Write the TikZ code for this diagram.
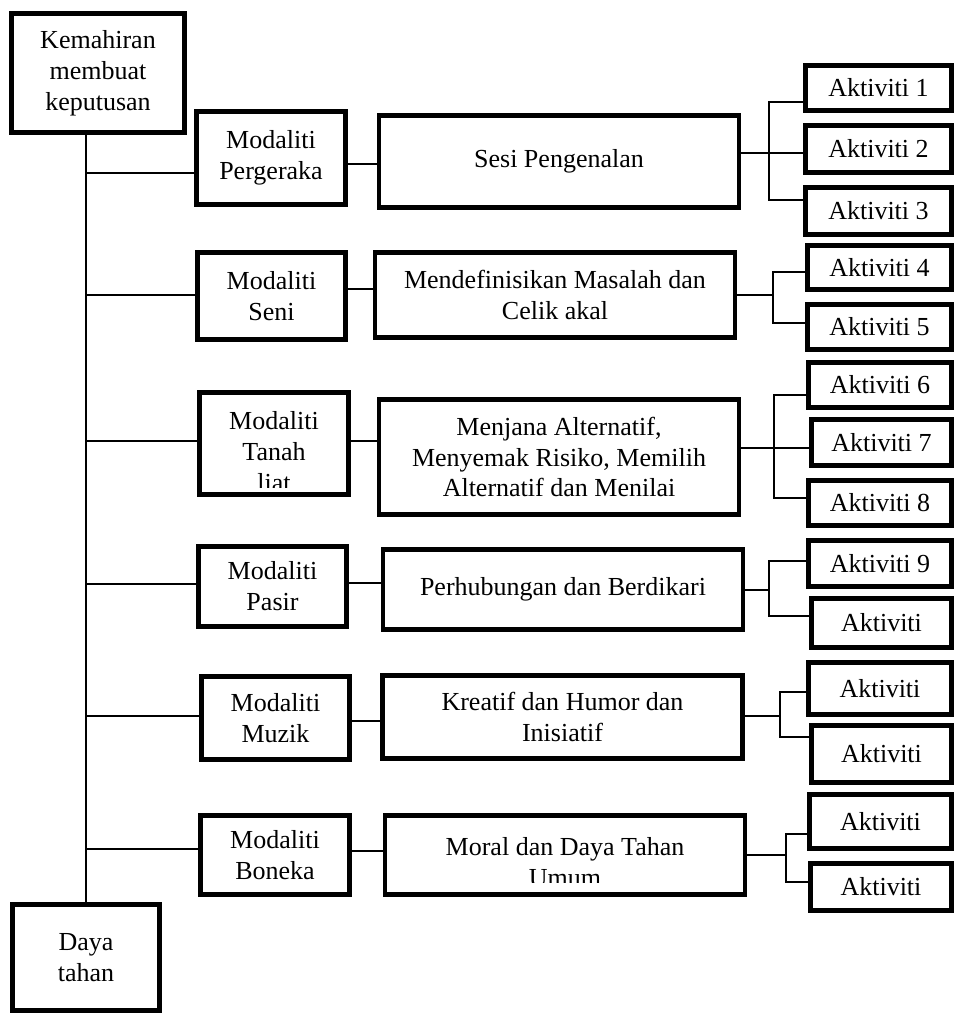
\documentclass[tikz,border=0pt]{standalone}
\usepackage{fontspec}
\setmainfont{Liberation Serif}
\begin{document}
\begin{tikzpicture}[x=0.02cm, y=-0.02cm,
    box/.style={draw, line width=2.6pt, align=center, inner sep=0pt, font=\fontsize{14.8}{17.6}\selectfont},
    modbox/.style={box, minimum width=2.97cm},
    sesbox/.style={box, minimum width=7.2cm},
    aktbox/.style={box, anchor=east},
    txt/.style={align=center, inner sep=0pt, font=\fontsize{14.8}{17.6}\selectfont},
    link/.style={line width=0.85pt}]
    \useasboundingbox (0,0) rectangle (957,1015);

    % Nodes
    \node (kem) [box, minimum width=3.47cm, minimum height=2.39cm] at (98,73) {Kemahiran\\membuat\\keputusan};
    \node (daya) [box, minimum width=2.95cm, minimum height=2.13cm] at (86,957.5) {Daya\\tahan};

    \node (mod1) [modbox, minimum height=1.87cm] at (271,158) {Modaliti\\Pergeraka};
    \node (mod2) [modbox, minimum height=1.75cm] at (271.5,296) {Modaliti\\Seni};
    \node (mod3) [modbox, minimum height=2.05cm] at (274,443.5) {};
    \node (mod4) [modbox, minimum height=1.61cm] at (272.5,586.5) {Modaliti\\Pasir};
    \node (mod5) [modbox, minimum height=1.67cm] at (275.5,718) {Modaliti\\Muzik};
    \node (mod6) [modbox, minimum height=1.59cm] at (275,855) {Modaliti\\Boneka};

    \node (ses1) [sesbox, minimum height=1.85cm] at (559,161.5) {Sesi Pengenalan};
    \node (ses2) [sesbox, minimum height=1.71cm] at (555,295) {Mendefinisikan Masalah dan\\Celik akal};
    \node (ses3) [sesbox, minimum height=2.31cm] at (559,457) {Menjana Alternatif,\\Menyemak Risiko, Memilih\\Alternatif dan Menilai};
    \node (ses4) [sesbox, minimum height=1.61cm] at (563,589.5) {Perhubungan dan Berdikari};
    \node (ses5) [sesbox, minimum height=1.67cm] at (562.5,717) {Kreatif dan Humor dan\\Inisiatif};
    \node (ses6) [sesbox, minimum height=1.59cm] at (565,855) {};

    \node (a1) [aktbox, minimum width=2.91cm, minimum height=0.91cm] at (953.5,88) {Aktiviti 1};
    \node (a2) [aktbox, minimum width=2.91cm, minimum height=0.95cm] at (953.5,149) {Aktiviti 2};
    \node (a3) [aktbox, minimum width=2.91cm, minimum height=0.95cm] at (953.5,211) {Aktiviti 3};
    \node (a4) [aktbox, minimum width=2.87cm, minimum height=0.89cm] at (953.5,267.5) {Aktiviti 4};
    \node (a5) [aktbox, minimum width=2.87cm, minimum height=0.91cm] at (953.5,327) {Aktiviti 5};
    \node (a6) [aktbox, minimum width=2.85cm, minimum height=0.91cm] at (953.5,385) {Aktiviti 6};
    \node (a7) [aktbox, minimum width=2.79cm, minimum height=0.93cm] at (953.5,442.5) {Aktiviti 7};
    \node (a8) [aktbox, minimum width=2.85cm, minimum height=0.91cm] at (953.5,503) {Aktiviti 8};
    \node (a9) [aktbox, minimum width=2.85cm, minimum height=0.93cm] at (953.5,563.5) {Aktiviti 9};
    \node (a10) [aktbox, minimum width=2.79cm, minimum height=0.99cm] at (953.5,623) {Aktiviti};
    \node (a11) [aktbox, minimum width=2.85cm, minimum height=1.05cm] at (953.5,688.5) {Aktiviti};
    \node (a12) [aktbox, minimum width=2.79cm, minimum height=1.15cm] at (953.5,754) {Aktiviti};
    \node (a13) [aktbox, minimum width=2.83cm, minimum height=1.09cm] at (953.5,821.5) {Aktiviti};
    \node (a14) [aktbox, minimum width=2.81cm, minimum height=0.95cm] at (953.5,887) {Aktiviti};

    % Clipped texts
    \begin{scope}
        \clip (mod3.north west) rectangle (mod3.east |- 0,487);
        \node (mod3t) [txt, anchor=north] at (274,411) {Modaliti\\Tanah\\liat};
    \end{scope}
    \begin{scope}
        \clip (ses6.north west) rectangle (ses6.east |- 0,882);
        \node (ses6t) [txt, anchor=north] at (565,837) {Moral dan Daya Tahan\\Umum};
    \end{scope}

    % Joints
    \coordinate (j1) at (769,153);
    \coordinate (j2) at (773,295);
    \coordinate (j3) at (774,448);
    \coordinate (j4) at (769,590);
    \coordinate (j5) at (780,716);
    \coordinate (j6) at (786,855);

    % Edges
    \draw[link] (daya.north |- kem.south) -- (daya.north);
    \draw[link] (daya.north |- 0,173) -- (mod1.west |- 0,173);
    \draw[link] (daya.north |- 0,295) -- (mod2.west |- 0,295);
    \draw[link] (daya.north |- 0,441) -- (mod3.west |- 0,441);
    \draw[link] (daya.north |- 0,584) -- (mod4.west |- 0,584);
    \draw[link] (daya.north |- 0,716) -- (mod5.west |- 0,716);
    \draw[link] (daya.north |- 0,849) -- (mod6.west |- 0,849);

    \draw[link] (mod1.east |- 0,164) -- (ses1.west |- 0,164);
    \draw[link] (mod2.east |- 0,289) -- (ses2.west |- 0,289);
    \draw[link] (mod3.east |- 0,441) -- (ses3.west |- 0,441);
    \draw[link] (mod4.east |- 0,583) -- (ses4.west |- 0,583);
    \draw[link] (mod5.east |- 0,721) -- (ses5.west |- 0,721);
    \draw[link] (mod6.east |- 0,851) -- (ses6.west |- 0,851);

    \draw[link] (ses1.east |- j1) -- (a2.west |- j1);
    \draw[link] (a1.west |- 0,102) -| (j1) |- (a3.west |- 0,200);
    \draw[link] (ses2.east |- j2) -- (j2);
    \draw[link] (a4.west |- 0,272) -| (j2) |- (a5.west |- 0,323);
    \draw[link] (ses3.east |- j3) -- (a7.west |- j3);
    \draw[link] (a6.west |- 0,395) -| (j3) |- (a8.west |- 0,498);
    \draw[link] (ses4.east |- j4) -- (j4);
    \draw[link] (a9.west |- 0,561) -| (j4) |- (a10.west |- 0,616);
    \draw[link] (ses5.east |- j5) -- (j5);
    \draw[link] (a11.west |- 0,692) -| (j5) |- (a12.west |- 0,737);
    \draw[link] (ses6.east |- j6) -- (j6);
    \draw[link] (a13.west |- 0,834) -| (j6) |- (a14.west |- 0,882);
\end{tikzpicture}
\end{document}
